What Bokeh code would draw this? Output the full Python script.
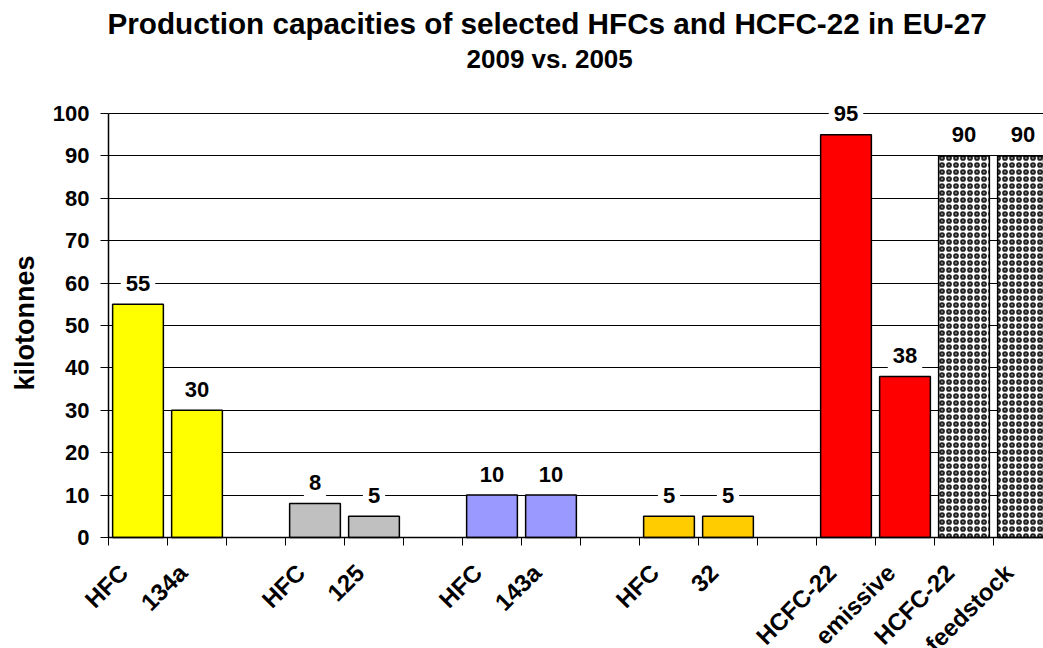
from math import pi
from bokeh.plotting import figure
from bokeh.models import (ColumnDataSource, Range1d, FixedTicker, Title, BoxAnnotation)
from bokeh.core.properties import value
from bokeh.embed import file_html
from bokeh.resources import INLINE

# ---- data ----
title_text = "Production capacities of selected HFCs and HCFC-22 in EU-27"
subtitle_text = "2009 vs. 2005"
y_label = "kilotonnes"
bar_labels = ["HFC", "134a", "HFC", "125", "HFC", "143a", "HFC", "32",
              "HCFC-22", "emissive", "HCFC-22", "feedstock"]
values = [55, 30, 8, 5, 10, 10, 5, 5, 95, 38, 90, 90]
group_sizes = [2, 2, 2, 2, 4]
bar_colors = ["#FFFF00", "#FFFF00", "#C0C0C0", "#C0C0C0", "#9999FF", "#9999FF",
              "#FFCC00", "#FFCC00", "#FF0000", "#FF0000", "#FFFFFF", "#FFFFFF"]
hatched = [False] * 10 + [True, True]
y_ticks = [0, 10, 20, 30, 40, 50, 60, 70, 80, 90, 100]

# ---- slot positions: one empty slot after each group ----
positions = []
slot = 0
for g in group_sizes:
    for _ in range(g):
        positions.append(slot)
        slot += 1
    slot += 1
n_slots = positions[-1] + 1
boundaries = [i - 0.5 for i in range(n_slots + 1)]
LABEL_SHIFT = 0.24                       # rotated labels end a little left of bar centre
label_ticks = [x - LABEL_SHIFT for x in positions]

FONT = "Liberation Sans"
Y_MAX = y_ticks[-1]

# ---- geometry (pixels) ----
W, H = 1043, 648
FRAME_LEFT, AXIS_X, FRAME_TOP, AXIS_TOP, AXIS_BOTTOM = 40, 108, 83, 113, 537
SLOT_PX = 59.0
PX_PER_UNIT = (AXIS_BOTTOM - AXIS_TOP) / Y_MAX
x_start = -0.5 - (AXIS_X - FRAME_LEFT) / SLOT_PX
x_end = x_start + (W - FRAME_LEFT) / SLOT_PX
y_start = -(H - AXIS_BOTTOM) / PX_PER_UNIT
y_end = Y_MAX + (AXIS_TOP - FRAME_TOP) / PX_PER_UNIT

p = figure(width=W, height=H, output_backend="svg", toolbar_location=None,
           x_range=Range1d(x_start, x_end), y_range=Range1d(y_start, y_end),
           title=None, min_border_left=FRAME_LEFT, min_border_right=0,
           min_border_top=FRAME_TOP, min_border_bottom=0)
p.outline_line_color = None
p.background_fill_color = "white"
p.border_fill_color = "white"

src = ColumnDataSource(dict(x=positions, top=values, label=[str(v) for v in values]))
plain = ColumnDataSource(dict(x=[x for x, h in zip(positions, hatched) if not h],
                              top=[v for v, h in zip(values, hatched) if not h],
                              color=[c for c, h in zip(bar_colors, hatched) if not h]))
hat = ColumnDataSource(dict(x=[x for x, h in zip(positions, hatched) if h],
                            top=[v for v, h in zip(values, hatched) if h]))

p.xgrid.grid_line_color = None
p.ygrid.ticker = FixedTicker(ticks=y_ticks, minor_ticks=[])
p.ygrid.grid_line_color = "black"
p.ygrid.grid_line_width = 1
try:
    p.ygrid.cross_bounds = (-0.5, x_end)
except AttributeError:
    # keep the grid lines out of the tick-label area left of the y axis
    p.add_layout(BoxAnnotation(left=x_start, right=-0.5, bottom=y_start, top=y_end,
                               fill_color="white", fill_alpha=1.0, line_color=None,
                               level="underlay"))

p.vbar(x="x", top="top", bottom=0, width=0.86, source=plain, fill_color="color",
       line_color="black", line_width=1.5)
p.vbar(x="x", top="top", bottom=0, width=0.86, source=hat, fill_color="white",
       hatch_pattern="ring", hatch_scale=7, hatch_weight=2.2, hatch_color="#222222",
       line_color="black", line_width=1.5)

# value labels with white boxes that interrupt the grid lines
p.text(x="x", y="top", text="label", source=src, y_offset=-21,
       text_align="center", text_baseline="middle",
       text_font=value(FONT), text_font_size="22px", text_font_style="bold",
       text_color="black", background_fill_color="white",
       padding=dict(left=5, right=5, top=8, bottom=8))

# x axis drawn at value 0: rotated category labels, tick marks at slot boundaries
p.xaxis.fixed_location = 0
p.xaxis.bounds = (-0.5, x_end)
p.xaxis.ticker = FixedTicker(ticks=label_ticks, minor_ticks=boundaries)
p.xaxis.major_label_overrides = {x: lab for x, lab in zip(label_ticks, bar_labels)}
p.xaxis.major_label_orientation = pi / 4
p.xaxis.major_label_standoff = 23
p.xaxis.major_label_text_font = FONT
p.xaxis.major_label_text_font_size = "24px"
p.xaxis.major_label_text_font_style = "bold"
p.xaxis.major_label_text_color = "black"
p.xaxis.major_tick_out = 0
p.xaxis.major_tick_in = 0
p.xaxis.minor_tick_out = 8
p.xaxis.minor_tick_in = 0
p.xaxis.minor_tick_line_color = "black"
p.xaxis.axis_line_color = "black"
p.xaxis.axis_line_width = 1.5

# y axis drawn at the first slot boundary
p.yaxis.fixed_location = -0.5
p.yaxis.ticker = FixedTicker(ticks=y_ticks, minor_ticks=[])
p.yaxis.bounds = (0, Y_MAX)
p.yaxis.major_tick_out = 8
p.yaxis.major_tick_in = 0
p.yaxis.major_tick_line_color = "black"
p.yaxis.axis_line_color = "black"
p.yaxis.axis_line_width = 1.5
p.yaxis.major_label_standoff = 11
p.yaxis.major_label_text_font = FONT
p.yaxis.major_label_text_font_size = "22px"
p.yaxis.major_label_text_font_style = "bold"
p.yaxis.major_label_text_color = "black"

# y-axis title, beside the 0..100 part of the axis
ytitle = Title(text=y_label, align="left", offset=258, standoff=2,
               text_font=FONT, text_font_size="27px", text_font_style="bold",
               text_color="black")
p.add_layout(ytitle, "left")

# titles, stacked outward from the frame
spacer = Title(text=" ", text_font_size="4px", standoff=2)
sub = Title(text=subtitle_text, align="left", offset=426, standoff=2,
            text_font=FONT, text_font_size="26px", text_font_style="bold",
            text_color="black")
main = Title(text=title_text, align="left", offset=67, standoff=1,
             text_font=FONT, text_font_size="29.7px", text_font_style="bold",
             text_color="black")
p.add_layout(spacer, "above")
p.add_layout(sub, "above")
p.add_layout(main, "above")

open("out.html", "w").write(file_html(p, INLINE))
